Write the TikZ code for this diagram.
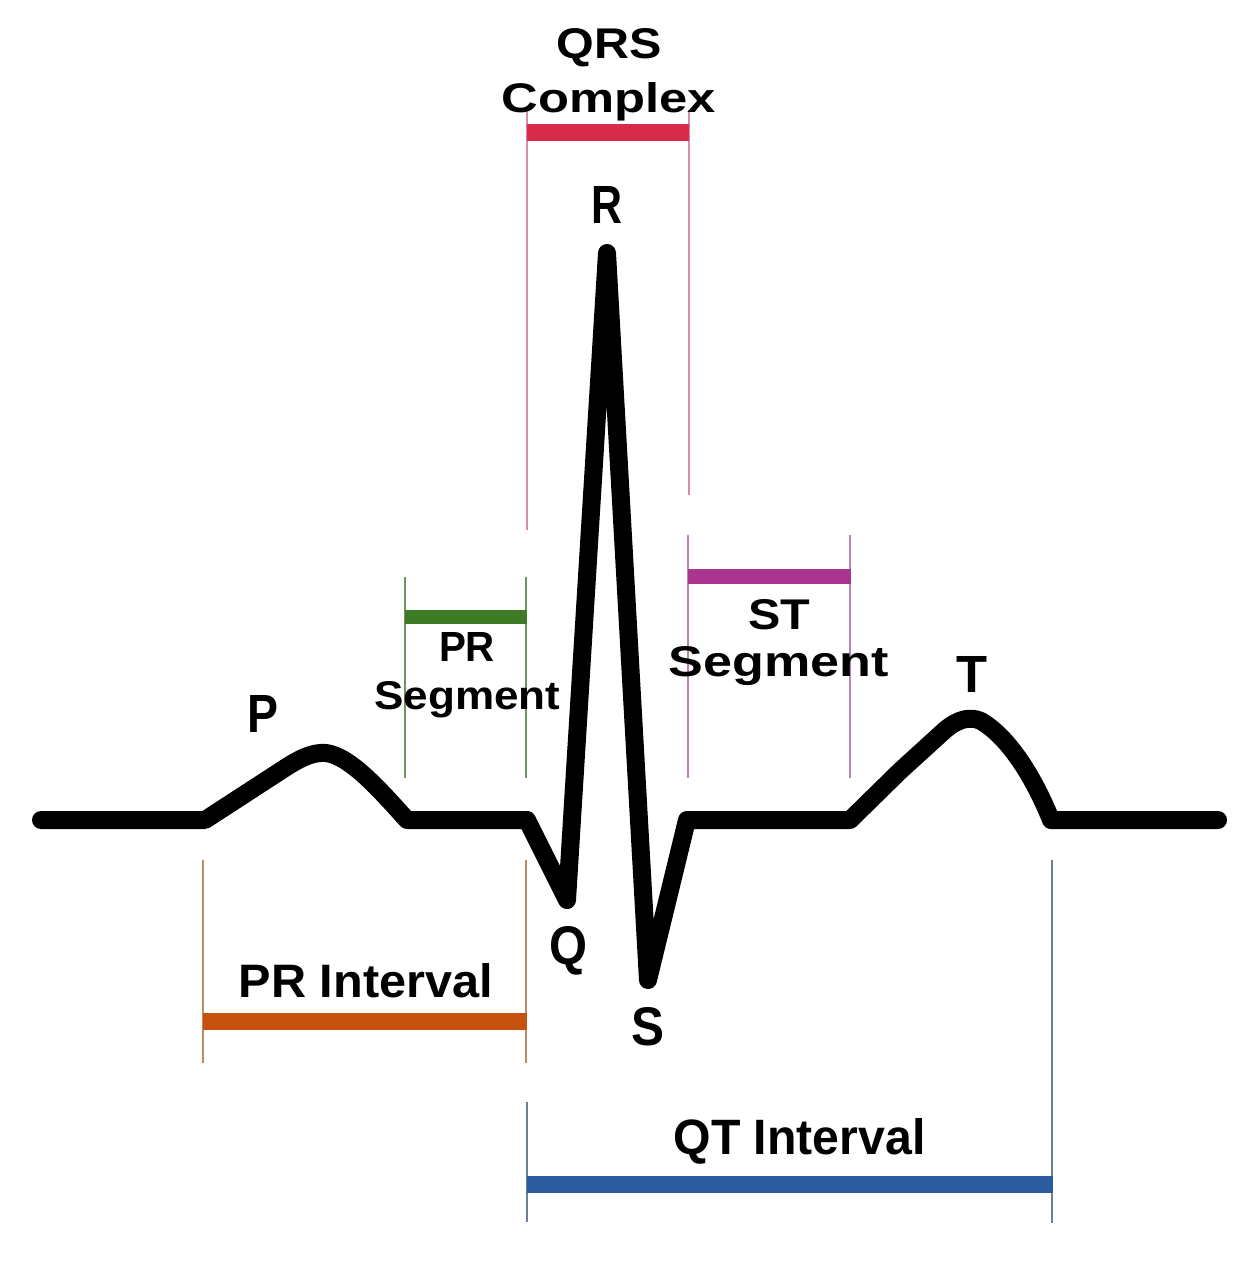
\documentclass[tikz,border=0pt]{standalone}
\usepackage{fontspec}
\setmainfont{Liberation Sans}
\usepackage{graphicx}
\definecolor{qrsbar}{HTML}{D62B4A}
\definecolor{qrsline}{HTML}{D98CA2}
\definecolor{prsbar}{HTML}{3F7A25}
\definecolor{prsline}{HTML}{6E9460}
\definecolor{stbar}{HTML}{A93590}
\definecolor{stline}{HTML}{B585B5}
\definecolor{pribar}{HTML}{C5520E}
\definecolor{priline}{HTML}{C08A64}
\definecolor{qtbar}{HTML}{2B5A9E}
\definecolor{qtline}{HTML}{6E8091}
\tikzset{
  wave/.style={line width=18pt, line cap=round, line join=round, black},
  barline/.style={line width=17pt},
  tickline/.style={line width=2.8pt},
  lbl/.style={inner sep=0pt, anchor=base, font=\bfseries, text=black},
}
\begin{document}
\begin{tikzpicture}[x=1pt,y=-1pt]
\useasboundingbox[fill=white] (0,0) rectangle (1244,1264);

% ---- wave key points
\coordinate (start) at (41,820);
\coordinate (pA) at (205,820);
\coordinate (pB) at (407,820);
\coordinate (qA) at (527,820);
\coordinate (qpk) at (567,900);
\coordinate (rpk) at (607,253);
\coordinate (spk) at (648,980);
\coordinate (sB) at (687,820);
\coordinate (tA) at (850,820);
\coordinate (tB) at (1051,820);
\coordinate (finish) at (1218,820);

% ---- interval tick lines
% QRS
\coordinate (qrsL1) at (527,110); \coordinate (qrsL2) at (527,530);
\coordinate (qrsR1) at (689,110); \coordinate (qrsR2) at (689,495);
\draw[tickline, qrsline] (qrsL1) -- (qrsL2);
\draw[tickline, qrsline] (qrsR1) -- (qrsR2);
% PR segment
\coordinate (prsL1) at (405,577); \coordinate (prsL2) at (405,778);
\coordinate (prsR1) at (526,577); \coordinate (prsR2) at (526,778);
\draw[tickline, prsline] (prsL1) -- (prsL2);
\draw[tickline, prsline] (prsR1) -- (prsR2);
% ST segment
\coordinate (stL1) at (688,535); \coordinate (stL2) at (688,778);
\coordinate (stR1) at (850,535); \coordinate (stR2) at (850,778);
\draw[tickline, stline] (stL1) -- (stL2);
\draw[tickline, stline] (stR1) -- (stR2);
% PR interval
\coordinate (priL1) at (203,860); \coordinate (priL2) at (203,1063);
\coordinate (priR1) at (526,860); \coordinate (priR2) at (526,1063);
\draw[tickline, priline] (priL1) -- (priL2);
\draw[tickline, priline] (priR1) -- (priR2);
% QT interval
\coordinate (qtL1) at (527,1102); \coordinate (qtL2) at (527,1222);
\coordinate (qtR1) at (1052,860); \coordinate (qtR2) at (1052,1223);
\draw[tickline, qtline] (qtL1) -- (qtL2);
\draw[tickline, qtline] (qtR1) -- (qtR2);

% ---- bars
\draw[barline, qrsbar] (527,132) coordinate (qrsbA) -- (689,132) coordinate (qrsbB);
\draw[barline, prsbar, line width=14pt] (405,617) coordinate (prsbA) -- (527,617) coordinate (prsbB);
\draw[barline, stbar, line width=15pt] (688,576) coordinate (stbA) -- (851,576) coordinate (stbB);
\draw[barline, pribar] (203,1021) coordinate (pribA) -- (527,1021) coordinate (pribB);
\draw[barline, qtbar] (527,1184) coordinate (qtbA) -- (1053,1184) coordinate (qtbB);

% ---- ECG wave
\draw[wave] (start) -- (pA)
  -- (285,768) .. controls (302,757) and (314,752) .. (326,753)
  .. controls (350,756) and (380,790) .. (pB)
  -- (qA) -- (qpk) -- (rpk) -- (spk) -- (sB) -- (tA)
  -- (900,771) -- (945,730) .. controls (958,719) and (970,716) .. (981,721)
  .. controls (1010,738) and (1035,780) .. (tB)
  -- (finish);

% ---- labels
\node[lbl] (lqrs) at (609,58) {\resizebox{105pt}{30pt}{QRS}};
\node[lbl] (lcomplex) at (608.5,112) {\resizebox{214pt}{30pt}{Complex}};
\node[lbl] (lr) at (607,223) {\resizebox{31pt}{37pt}{R}};
\node[lbl] (lp) at (262.5,732) {\resizebox{31pt}{37pt}{P}};
\node[lbl] (lpr) at (467,661) {\resizebox{56pt}{29pt}{PR}};
\node[lbl] (lprseg) at (467.5,709) {\resizebox{186pt}{28pt}{Segment}};
\node[lbl] (lst) at (779.5,629) {\resizebox{62pt}{30pt}{ST}};
\node[lbl] (lstseg) at (778.5,676) {\resizebox{220pt}{30pt}{Segment}};
\node[lbl] (lt) at (971.5,692) {\resizebox{31pt}{36pt}{T}};
\node[lbl] (lq) at (568,964) {\resizebox{38pt}{38pt}{Q}};
\node[lbl] (ls) at (647.5,1045) {\resizebox{33pt}{38pt}{S}};
\node[lbl] (lpri) at (366,997) {\resizebox{254pt}{34pt}{PR Interval}};
\node[lbl] (lqti) at (799.5,1154) {\resizebox{252pt}{36pt}{QT Interval}};
\end{tikzpicture}
\end{document}
